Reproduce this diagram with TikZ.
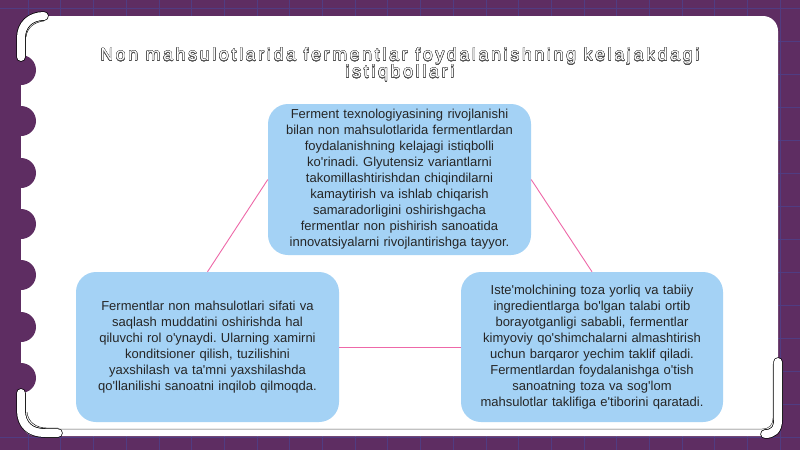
\documentclass[tikz,border=0pt]{standalone}
\usepackage{fontspec}
\setmainfont{Liberation Sans}[Ligatures=TeXOff]
\usepackage[copies]{contour}
\contourlength{0.28pt}
\contournumber{24}
\frenchspacing
\definecolor{plum}{RGB}{94,45,98}
\definecolor{gridline}{RGB}{80,60,130}
\definecolor{cardblue}{RGB}{164,210,245}
\definecolor{linkpink}{RGB}{238,104,168}
\definecolor{inkgray}{RGB}{80,80,80}
\tikzset{idea/.style={fill=cardblue, rounded corners=20pt, inner sep=0pt, align=center,
    text=black!85, font=\fontsize{13}{16}\selectfont},
  link/.style={draw=linkpink, line width=0.9pt},
  curl/.style={line cap=round, line join=round, line width=#1}}

\begin{document}
\begin{tikzpicture}[x=1pt, y=-1pt]
\useasboundingbox (0,0) rectangle (800,450);
% background and grid
\fill[plum] (0,0) rectangle (800,450);
\foreach \x in {28,60.7,...,800} \draw[gridline, line width=0.6pt] (\x,0) -- (\x,450);
\foreach \y in {8,41,...,450} \draw[gridline, line width=0.6pt] (0,\y) -- (800,\y);

% card with binder notches
\fill[white, rounded corners=15pt] (21,16) rectangle (778,436);
\foreach \y in {70,121,173,224,275,327,378} \fill[plum] (21,\y) circle (15);
\fill[plum] (0,16) rectangle (21,436);

% curled corners
\draw[curl=9.5pt, black] (21,57) -- (21,38) .. controls (21,25) and (30,16) .. (44,16);
\draw[curl=8pt, white] (21,57) -- (21,38) .. controls (21,25) and (30,16) .. (44,16);
\draw[black, line width=0.4pt] (26,37) .. controls (27,28) and (34,22) .. (44,21);
\draw[curl=9.5pt, black] (21,393) -- (21,410) .. controls (21,425) and (30,433) .. (45,433) -- (58,433);
\draw[curl=8pt, white] (21,393) -- (21,410) .. controls (21,425) and (30,433) .. (45,433) -- (58,433);
\draw[black, line width=0.4pt] (27,412) .. controls (28,422) and (36,428) .. (47,428) -- (58,428);
\draw[curl=9.5pt, black] (778,362) -- (778,420) .. controls (778,430) and (773,434) .. (765,434);
\draw[curl=8pt, white] (778,362) -- (778,420) .. controls (778,430) and (773,434) .. (765,434);
\draw[inkgray, line width=0.5pt] (58,429) -- (762,429) .. controls (769,429) and (773,425) .. (773,418) -- (773,364);

% title
\node[text=white, align=center, font=\fontsize{17.5}{17}\selectfont\addfontfeatures{LetterSpace=16}] (title) at (400,65)
  {\contour{inkgray}{Non mahsulotlarida fermentlar foydalanishning kelajakdagi}\\
   \contour{inkgray}{istiqbollari}};

% ideas
\node[idea, text width=263pt, minimum height=151pt] (future) at (399.5,179.5)
  {Ferment texnologiyasining rivojlanishi\\ bilan non mahsulotlarida fermentlardan\\
   foydalanishning kelajagi istiqbolli\\ ko'rinadi. Glyutensiz variantlarni\\
   takomillashtirishdan chiqindilarni\\ kamaytirish va ishlab chiqarish\\
   samaradorligini oshirishgacha\\ fermentlar non pishirish sanoatida\\
   innovatsiyalarni rivojlantirishga tayyor.};
\node[idea, text width=262pt, minimum height=150pt] (demand) at (592,347)
  {Iste'molchining toza yorliq va tabiiy\\ ingredientlarga bo'lgan talabi ortib\\
   borayotganligi sababli, fermentlar\\ kimyoviy qo'shimchalarni almashtirish\\
   uchun barqaror yechim taklif qiladi.\\ Fermentlardan foydalanishga o'tish\\
   sanoatning toza va sog'lom\\ mahsulotlar taklifiga e'tiborini qaratadi.};
\node[idea, text width=263pt, minimum height=150pt] (quality) at (207.5,347)
  {Fermentlar non mahsulotlari sifati va\\ saqlash muddatini oshirishda hal\\
   qiluvchi rol o'ynaydi. Ularning xamirni\\ konditsioner qilish, tuzilishini\\
   yaxshilash va ta'mni yaxshilashda\\ qo'llanilishi sanoatni inqilob qilmoqda.};

\draw[link] (future.west) -- (quality.north);
\draw[link] (future.east) -- (demand.north);
\draw[link] (quality.east) -- (demand.west);
\end{tikzpicture}
\end{document}
